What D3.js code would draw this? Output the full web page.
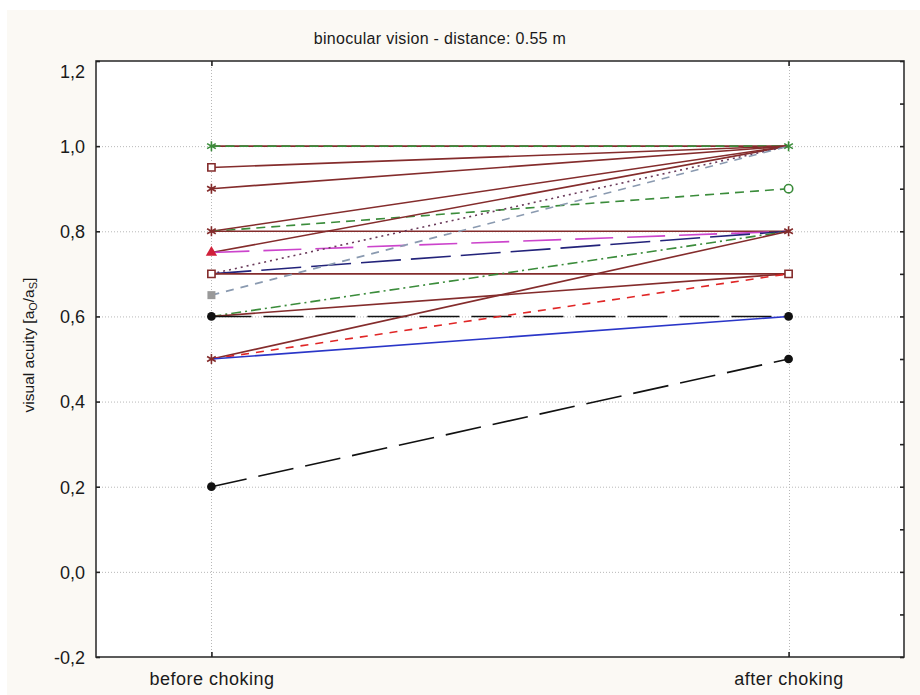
<!DOCTYPE html>
<html>
<head>
<meta charset="utf-8">
<script src="https://cdn.jsdelivr.net/npm/d3@7"></script>
<style>
  body { margin: 0; background: #ffffff; }
  text { font-family: Arial, "Liberation Sans", sans-serif; fill: #1a1a1a; }
</style>
</head>
<body>
<script>
var width = 920, height = 695;

// categories on the x axis
var categories = ["before choking", "after choking"];

// one entry per line: value before and after choking
var before = [1.0, 1.0, 0.95, 0.9, 0.8, 0.8, 0.8, 0.75, 0.75, 0.7, 0.7, 0.7, 0.65, 0.6, 0.6, 0.6, 0.5, 0.5, 0.5, 0.2];
var after  = [1.0, 1.0, 1.0,  1.0, 1.0, 0.9, 0.8, 1.0,  0.8,  1.0, 0.8, 0.7, 1.0,  0.8, 0.7, 0.6, 0.8, 0.7, 0.6, 0.5];

// line styles, same order as the values
var lineColors = ["#842c2c", "#3b8c3b", "#842c2c", "#842c2c", "#842c2c", "#3b8c3b", "#842c2c", "#842c2c", "#cc44cc", "#6a3a5a",
                  "#23237a", "#842c2c", "#8a9ab0", "#3b8c3b", "#842c2c", "#111111", "#842c2c", "#e02626", "#2a36c8", "#111111"];
var lineDash = [null, "9,5", null, null, null, "9,6", null, null, "38,14", "2,4",
                "40,10", null, "8,7", "10,4,2,4", null, "40,12", null, "8,7", null, "36,12"];

// markers at the two ends
var beforeMarks = [1.0, 0.95, 0.9, 0.8, 0.75, 0.7, 0.65, 0.6, 0.5, 0.2];
var beforeSymbols = ["asterisk", "square", "asterisk", "asterisk", "triangle", "square", "filledSquare", "circle", "asterisk", "circle"];
var beforeColors = ["#3b8c3b", "#842c2c", "#842c2c", "#842c2c", "#d0203a", "#842c2c", "#999999", "#111111", "#842c2c", "#111111"];
var afterMarks = [1.0, 0.9, 0.8, 0.7, 0.6, 0.5];
var afterSymbols = ["asterisk", "openCircle", "asterisk", "square", "circle", "circle"];
var afterColors = ["#3b8c3b", "#3b8c3b", "#842c2c", "#842c2c", "#111111", "#111111"];

var yTicks = [-0.2, 0.0, 0.2, 0.4, 0.6, 0.8, 1.0, 1.2];
var yMinor = d3.range(-0.2, 1.21, 0.1);

var margin = { left: 96, right: 16, top: 61, bottom: 38 };

var svg = d3.select("body").append("svg")
  .attr("width", width)
  .attr("height", height);

svg.append("rect")
  .attr("x", 7).attr("y", 10)
  .attr("width", width - 7).attr("height", height - 10)
  .attr("fill", "#fbf9f4");

var x = d3.scalePoint()
  .domain(categories)
  .range([margin.left, width - margin.right])
  .padding(0.2);

var y = d3.scaleLinear()
  .domain([-0.2, 1.2])
  .range([height - margin.bottom, margin.top]);

var x0 = margin.left, x1 = width - margin.right;
var y0 = height - margin.bottom, y1 = margin.top;

svg.append("rect")
  .attr("x", x0).attr("y", y1)
  .attr("width", x1 - x0).attr("height", y0 - y1)
  .attr("fill", "#ffffff");

//grid
var grid = svg.append("g")
  .attr("stroke", "#b8b8b8")
  .attr("stroke-width", 1)
  .attr("stroke-dasharray", "1,2");
grid.selectAll("line.h")
  .data(yTicks.slice(1, -1))
  .join("line")
  .attr("x1", x0).attr("x2", x1)
  .attr("y1", d => y(d) + 0.5).attr("y2", d => y(d) + 0.5);
grid.selectAll("line.v")
  .data(categories)
  .join("line")
  .attr("x1", d => Math.round(x(d)) + 0.5).attr("x2", d => Math.round(x(d)) + 0.5)
  .attr("y1", y1).attr("y2", y0);

//lines
var line = d3.line()
  .x(d => x(d[0]))
  .y(d => y(d[1]));

svg.append("g")
  .attr("fill", "none")
  .selectAll("path")
  .data(before.map((b, i) => ({ i: i, pts: [[categories[0], b], [categories[1], after[i]]] })))
  .join("path")
  .attr("d", d => line(d.pts))
  .attr("stroke", d => lineColors[d.i])
  .attr("stroke-width", 1.6)
  .attr("stroke-dasharray", d => lineDash[d.i]);

//markers
function drawMarks(cat, values, symbols, colors) {
  var g = svg.append("g");
  values.forEach(function (v, i) {
    var s = symbols[i], c = colors[i];
    var t = "translate(" + x(cat) + "," + y(v) + ")";
    if (s === "asterisk") {
      g.append("path").attr("transform", t)
        .attr("d", d3.symbol(d3.symbolAsterisk, 70)())
        .attr("fill", "none").attr("stroke", c).attr("stroke-width", 1.6);
    } else if (s === "square") {
      g.append("path").attr("transform", t)
        .attr("d", d3.symbol(d3.symbolSquare, 52)())
        .attr("fill", "#ffffff").attr("stroke", c).attr("stroke-width", 1.6);
    } else if (s === "filledSquare") {
      g.append("path").attr("transform", t)
        .attr("d", d3.symbol(d3.symbolSquare, 64)())
        .attr("fill", c);
    } else if (s === "triangle") {
      g.append("path").attr("transform", t)
        .attr("d", d3.symbol(d3.symbolTriangle, 55)())
        .attr("fill", c);
    } else if (s === "openCircle") {
      g.append("path").attr("transform", t)
        .attr("d", d3.symbol(d3.symbolCircle, 55)())
        .attr("fill", "#ffffff").attr("stroke", c).attr("stroke-width", 1.6);
    } else {
      g.append("path").attr("transform", t)
        .attr("d", d3.symbol(d3.symbolCircle, 60)())
        .attr("fill", c);
    }
  });
}
drawMarks(categories[0], beforeMarks, beforeSymbols, beforeColors);
drawMarks(categories[1], afterMarks, afterSymbols, afterColors);

//frame
svg.append("rect")
  .attr("x", x0).attr("y", y1)
  .attr("width", x1 - x0).attr("height", y0 - y1)
  .attr("fill", "none")
  .attr("stroke", "#333333")
  .attr("stroke-width", 1.6);

//axes
var yAxis = svg.append("g")
  .attr("transform", "translate(" + x0 + ",0)")
  .call(d3.axisLeft(y).tickValues(yTicks).tickSize(-4).tickPadding(11)
    .tickFormat(d => d3.format(".1f")(d).replace(".", ",").replace("−", "-")));
yAxis.select(".domain").remove();
yAxis.selectAll(".tick line").attr("stroke", "#222").attr("stroke-width", 1.6);
yAxis.selectAll(".tick text")
  .attr("font-size", 18)
  .attr("fill", "#1a1a1a")
  .attr("font-family", "Arial, 'Liberation Sans', sans-serif")
  .attr("dy", d => d === 1.2 ? "0.9em" : "0.35em");

var yRight = svg.append("g")
  .attr("transform", "translate(" + x1 + ",0)")
  .call(d3.axisRight(y).tickValues(yMinor).tickSize(-4).tickFormat(""));
yRight.select(".domain").remove();
yRight.selectAll(".tick line").attr("stroke", "#222").attr("stroke-width", 1.6);

var xAxis = svg.append("g")
  .attr("transform", "translate(0," + y0 + ")")
  .call(d3.axisBottom(x).tickSize(-5).tickPadding(15));
xAxis.select(".domain").remove();
xAxis.selectAll(".tick line").attr("stroke", "#222").attr("stroke-width", 1.6);
xAxis.selectAll(".tick text")
  .attr("font-size", 18)
  .attr("letter-spacing", 0.5)
  .attr("fill", "#1a1a1a")
  .attr("font-family", "Arial, 'Liberation Sans', sans-serif");

var xTop = svg.append("g")
  .attr("transform", "translate(0," + y1 + ")")
  .call(d3.axisTop(x).tickSize(-5).tickFormat(""));
xTop.select(".domain").remove();
xTop.selectAll(".tick line").attr("stroke", "#222").attr("stroke-width", 1.6);

//title
svg.append("text")
  .attr("x", 440)
  .attr("y", 44)
  .attr("text-anchor", "middle")
  .attr("font-size", 16)
  .attr("letter-spacing", 0.3)
  .text("binocular vision - distance: 0.55 m");

//y label
var yl = svg.append("text")
  .attr("transform", "translate(34,345) rotate(-90)")
  .attr("text-anchor", "middle")
  .attr("font-size", 15.5);
yl.append("tspan").text("visual acuity [a");
yl.append("tspan").attr("font-size", 11).attr("dy", 3).text("O");
yl.append("tspan").attr("dy", -3).text("/a");
yl.append("tspan").attr("font-size", 11).attr("dy", 3).text("S");
yl.append("tspan").attr("dy", -3).text("]");
</script>
</body>
</html>
